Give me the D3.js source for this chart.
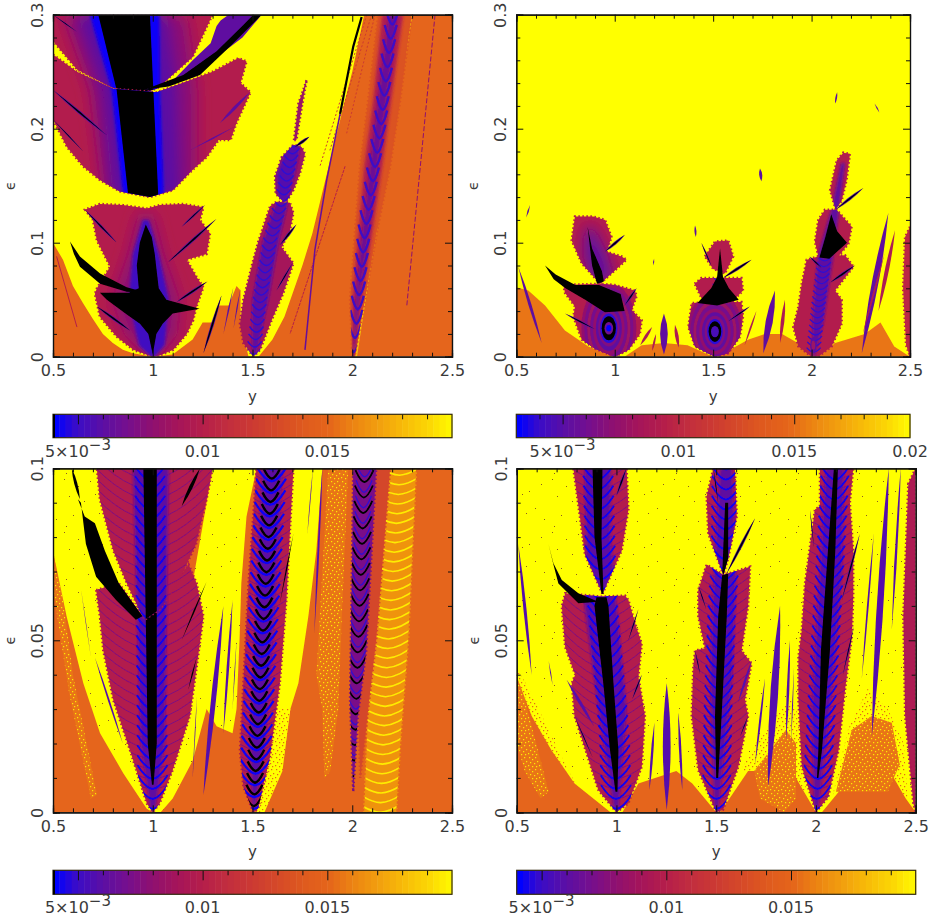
<!DOCTYPE html>
<html>
<head>
<meta charset="utf-8">
<script src="https://cdnjs.cloudflare.com/ajax/libs/d3/7.8.5/d3.min.js"></script>
<style>
body { margin: 0; background: #fff; }
text { font-family: "DejaVu Sans", sans-serif; fill: #3a3a3a; }
</style>
</head>
<body>
<div id="chart"></div>
<script>
// colour table
var cmapT = [0, 0.0039, 0.0042, 0.005, 0.006, 0.007, 0.008, 0.009, 0.01, 0.011, 0.012, 0.013, 0.014, 0.015, 0.016, 0.017, 0.018, 0.019, 0.02];
var cmapC = ["#000000", "#000000", "#0000ff", "#3a0cc8", "#5a0fa5", "#750f8e", "#8f1070", "#a5155a", "#b51e4a", "#c22e3e", "#cc3a32", "#d64a28", "#df5a1e", "#e5651a", "#ec8512", "#f2a00e", "#f8bc08", "#fcd804", "#ffff00"];

var xMajor = [0.5, 1, 1.5, 2, 2.5];
var xMinor = [0.6, 0.7, 0.8, 0.9, 1.1, 1.2, 1.3, 1.4, 1.6, 1.7, 1.8, 1.9, 2.1, 2.2, 2.3, 2.4];
var eMajorTop = [0, 0.1, 0.2, 0.3];
var eMinorTop = [0.02, 0.04, 0.06, 0.08, 0.12, 0.14, 0.16, 0.18, 0.22, 0.24, 0.26, 0.28];
var eMajorLow = [0, 0.05, 0.1];
var eMinorLow = [0.01, 0.02, 0.03, 0.04, 0.06, 0.07, 0.08, 0.09];
var barMajor = [0.005, 0.01, 0.015];
var barMinor = [0.004, 0.006, 0.007, 0.008, 0.009, 0.011, 0.012, 0.013, 0.014, 0.016, 0.017, 0.018, 0.019];

// ---- top left panel, points are [y, epsilon]
var aYellow = [[.5,.3],[2.06,.3],[2,.25],[1.9,.18],[1.8,.108],[1.75,.08],[1.7,.055],[1.66,.035],[1.6,.015],[1.53,0],[1.48,0],[1.44,.03],[1.44,.058],[1.42,.062],[1.38,.045],[1.33,.045],[1.3,.03],[1.25,.03],[1.2,.015],[1.1,.002],[1,0],[.9,.003],[.85,.006],[.8,.012],[.75,.02],[.7,.033],[.65,.047],[.6,.062],[.55,.085],[.5,.1]];
var aLobeUp = [[.5,.3],[1.3,.3],[1.2,.263],[1.02,.235],[.95,.232],[.8,.236],[.62,.252],[.5,.277]];
var aLobeLow = [[.5,.265],[.62,.25],[.8,.235],[1.02,.232],[1.15,.24],[1.3,.25],[1.43,.262],[1.47,.259],[1.44,.24],[1.49,.232],[1.42,.205],[1.39,.19],[1.33,.19],[1.27,.175],[1.2,.164],[1.1,.146],[.986,.14],[.835,.145],[.735,.155],[.65,.167],[.57,.184],[.5,.208]];
var aTopMag = [[.3,.55,1.17],[.234,.685,1.22],[.14,.75,1.22]];
var aTopPur = [[.3,.62,1.07],[.234,.75,1.12],[.14,.8,1.137]];
var aTopBlue = [[.3,.685,1.033],[.234,.794,1.036],[.14,.853,1.056]];
var aTopBlack = [[.3,.727,.986],[.234,.819,1.003],[.14,.878,1.028]];
var aFeatherUp = [[.953,.234],[1.1,.242],[1.2,.26],[1.29,.275],[1.32,.29],[1.34,.295],[1.38,.3],[1.546,.3],[1.45,.28],[1.3,.26],[1.2,.245],[1.08,.238]];
var aFeatherCore = [[.953,.234],[1.153,.247],[1.32,.268],[1.454,.291],[1.504,.3],[1.546,.3],[1.404,.275],[1.237,.247],[1.08,.237]];
var aLobeMid = [[.998,0],[.903,.006],[.819,.0175],[.735,.035],[.71,.055],[.72,.06],[.786,.079],[.72,.102],[.7,.12],[.66,.129],[.735,.134],[.85,.133],[.97,.13],[1.036,.133],[1.153,.134],[1.254,.131],[1.237,.12],[1.287,.108],[1.27,.09],[1.17,.085],[1.22,.07],[1.254,.061],[1.22,.044],[1.203,.032],[1.17,.02],[1.103,.006],[1.035,.001]];
var aMidMag = [[.125,.93,1],[.09,.88,1.05],[.05,.8,1.13],[.02,.86,1.12],[0,.97,1.03]];
var aMidBlue = [[.12,.95,.98],[.09,.9,1.03],[.05,.88,1.08],[.01,.93,1.06],[0,.99,1.01]];
var aMidBlack = [[.965,.116],[.995,.105],[1.01,.09],[1.02,.075],[1.03,.06],[1.068,.05],[1.235,.042],[1.1,.038],[1.05,.029],[1.018,.02],[1,.002],[.978,.02],[.936,.029],[.87,.037],[.77,.05],[.735,.056],[.88,.056],[.93,.06],[.92,.08],[.935,.1]];
var aFeatherLeft = [[.585,.101],[.635,.088],[.736,.073],[.869,.061],[.97,.056],[.869,.057],[.736,.064],[.635,.079],[.605,.09]];
var aLobe15 = [[1.504,0],[1.454,.012],[1.437,.029],[1.454,.05],[1.504,.085],[1.529,.101],[1.554,.114],[1.588,.132],[1.621,.136],[1.688,.135],[1.705,.126],[1.688,.111],[1.646,.096],[1.68,.088],[1.705,.082],[1.655,.056],[1.596,.032],[1.538,.006]];
var a15Spine = [[0,1.505],[.05,1.54],[.1,1.59],[.136,1.65]];
var a15Band = [[0,1.5,1.515],[.05,1.5,1.58],[.1,1.55,1.63],[.136,1.62,1.68]];
var aLobe15Up = [[1.655,.136],[1.616,.143],[1.613,.158],[1.646,.175],[1.705,.186],[1.746,.184],[1.763,.178],[1.738,.161],[1.705,.146],[1.67,.136]];
var a15UpBand = [[.136,1.63,1.67],[.16,1.62,1.71],[.186,1.68,1.74]];
var a15UpSpine = [[.136,1.65],[.186,1.71]];
var aLobe15Tip = [[1.708,.19],[1.73,.222],[1.772,.243],[1.75,.222],[1.72,.19]];
var aLobe2 = [[2,0],[1.989,.05],[2.013,.108],[2.039,.167],[2.08,.225],[2.13,.3],[2.298,.3],[2.24,.225],[2.19,.167],[2.122,.108],[2.064,.05],[2.012,0]];
var a2Soft = [[0,2,2.01],[.05,2,2.05],[.108,2.03,2.1],[.167,2.06,2.15],[.225,2.105,2.195],[.3,2.15,2.255]];
var a2Band = [[0,2.003,2.008],[.05,2.018,2.035],[.108,2.05,2.08],[.167,2.09,2.125],[.225,2.13,2.17],[.3,2.185,2.225]];
var a2Spine = [[0,2.005],[.108,2.064],[.196,2.14],[.3,2.206]];
var aStreak = [[2.047,.298],[2.005,.272],[1.939,.213],[1.872,.155],[1.813,.094],[1.763,.006]];
var aThin1 = [[2.415,.3],[2.273,.044]];
var aThin2 = [[2.097,.3],[1.888,.181]];
var aThin3 = [[2.114,.3],[1.972,.196]];
var aThin4 = [[2.073,.3],[1.838,.167]];
var aThin5 = [[1.964,.167],[1.688,.02]];
var aThin6 = [[.518,.088],[.62,.026]];
var aRim = [[2.02,0],[2.09,.08],[2.18,.17],[2.298,.3]];
var aDarkFeathers = [[.5,.234,.77,.194,.012],[.5,.208,.652,.18,.006],[.5,.3,.62,.285,.005],[1.32,.121,1.078,.083,.012],[1.262,.133,1.145,.114,.008],[1.274,.066,1.12,.048,.012],[.72,.044,.886,.023,.012],[.66,.129,.82,.1,.01],[1.72,.116,1.638,.098,.012],[1.7,.082,1.62,.058,.007],[1.785,.193,1.713,.184,.012],[1.254,.003,1.345,.054,.012]];
var aPurpleFeathers = [[1.487,.232,1.337,.205,.012],[1.412,.202,1.187,.181,.006],[1.404,.061,1.354,.02,.006],[1.44,.06,1.405,.025,.005]];

// ---- top right panel
var bOrangeL = [[.5,0],[.5,.061],[.561,.058],[.646,.045],[.747,.023],[.866,.009],[.985,.001],[1,0]];
var bOrangeM = [[1.05,0],[1.137,.01],[1.25,.012],[1.37,.01],[1.5,0]];
var bOrangeR = [[1.52,0],[1.68,.015],[1.763,.02],[1.85,.02],[1.95,.01],[2,0]];
var bOrangeE = [[2.03,0],[2.12,.012],[2.27,.02],[2.35,.03],[2.42,.009],[2.5,0]];
var bLobe1 = [[1,0],[.9,.007],[.832,.015],[.79,.035],[.798,.044],[.747,.056],[.739,.063],[.917,.064],[1,.063],[1.103,.058],[1.111,.053],[1.086,.041],[1.137,.032],[1.128,.02],[1.07,.006]];
var bLobe1Up = [[.925,.064],[.832,.082],[.781,.102],[.798,.123],[.891,.123],[.951,.12],[.984,.105],[.959,.092],[1.035,.088],[1.06,.085],[.984,.073]];
var b1Streak = [[.862,.114],[.885,.095],[.935,.075],[.945,.066],[.91,.064],[.885,.08]];
var b1Band = [[.114,.85,.89],[.09,.84,.96],[.066,.88,1]];
var b1Black = [[.646,.08],[.7,.072],[.8,.063],[.92,.063],[1.03,.055],[1.05,.04],[.95,.039],[.85,.05],[.75,.06],[.69,.068]];
var b1Rings = [[.14,.04,.0082],[.125,.036,.0072],[.11,.032,.0086],[.095,.028,.007],[.08,.024,.0082],[.066,.02,.0062],[.054,.016,.0075],[.044,.013,.0048],[.036,.0105,0],[.022,.0055,.0068],[.013,.0028,.0042]];
var b1Feathers = [[1.052,.107,.95,.092,.012],[.747,.038,.9,.024,.009],[1.111,.06,1.05,.045,.01]];
var bLobe15 = [[1.509,0],[1.408,.009],[1.374,.026],[1.391,.047],[1.509,.048],[1.644,.048],[1.652,.035],[1.636,.0175],[1.577,.003]];
var bLobe15Mid = [[1.406,.064],[1.44,.069],[1.526,.069],[1.644,.069],[1.652,.058],[1.594,.048],[1.45,.048]];
var bLobe15Up = [[1.458,.088],[1.509,.101],[1.577,.102],[1.602,.088],[1.56,.073],[1.5,.077]];
var b15Black = [[1.42,.047],[1.49,.06],[1.52,.07],[1.535,.095],[1.55,.07],[1.58,.06],[1.63,.05],[1.52,.045]];
var b15Rings = [[.14,.036,.0082],[.125,.032,.0072],[.11,.028,.0086],[.095,.024,.007],[.08,.02,.0082],[.066,.017,.0062],[.052,.014,.0075],[.04,.011,.0048],[.032,.009,0],[.02,.005,.0055]];
var b15MidSpine = [[.045,1.515],[.09,1.54]];
var b15Feathers = [[1.695,.085,1.55,.069,.012],[1.686,.044,1.577,.031,.009],[1.44,.1,1.49,.08,.006]];
var bLobe2 = [[2,0],[1.933,.009],[1.907,.026],[1.933,.044],[1.95,.064],[1.975,.085],[2.034,.088],[2.17,.089],[2.213,.079],[2.119,.058],[2.153,.05],[2.153,.029],[2.102,.009],[2.034,0]];
var bLobe2Mid = [[2.034,.088],[2.017,.101],[2.034,.12],[2.068,.129],[2.127,.129],[2.204,.114],[2.187,.099],[2.136,.088]];
var bLobe2Up = [[2.122,.129],[2.094,.146],[2.128,.172],[2.161,.179],[2.195,.178],[2.178,.155],[2.153,.137]];
var b2Band = [[0,2.005,2.015],[.03,2.005,2.06],[.088,2.03,2.11],[.129,2.1,2.14],[.17,2.15,2.17]];
var b2Black = [[2.1,.125],[2.13,.11],[2.18,.1],[2.09,.086],[2.04,.087],[2.07,.105]];
var b2Spine = [[0,2.008],[.05,2.04],[.088,2.07]];
var b2Rings = [[.016,.007,.006],[.01,.004,.0085]];
var b2Feathers = [[2.263,.148,2.122,.129,.012],[2.22,.08,2.095,.065,.012],[1.99,.088,2.05,.078,.008]];
var bSpikesPurple = [[1.25,.002,1.25,.038,.03],[1.814,.058,1.755,.003,.028],[2.39,.126,2.255,.003,.026],[.51,.079,.629,.012,.012]];
var bSpikesRed = [[1.19,.026,1.13,.01,.012],[1.306,.028,1.325,.008,.014],[1.72,.04,1.66,.01,.007],[1.865,.05,1.84,.012,.014],[2.424,.111,2.34,.04,.016],[2.37,.09,2.26,.02,.008],[1.21,.02,1.19,.005,.008]];
var bSpecks = [[1.738,.165,1.745,.154,.012],[1.408,.115,1.412,.105,.008],[2.13,.232,2.12,.222,.007],[2.32,.222,2.345,.214,.005],[.57,.133,.55,.122,.006],[1.2,.086,1.195,.08,.005]];
var bLobeEdge = [[2.5,.114],[2.475,.105],[2.465,.06],[2.48,.01],[2.5,0]];

// ---- bottom left panel
var cYellowL = [[.5,.1],[.72,.1],[.735,.091],[.803,.076],[.87,.0666],[.94,.058],[1,.0],[.97,.001],[.853,.0113],[.736,.023],[.652,.0375],[.568,.057],[.5,.076]];
var cYellowM = [[1.3,.1],[1.52,.1],[1.47,.086],[1.444,.0666],[1.435,.05],[1.42,.03],[1.4,.023],[1.32,.025],[1.27,.03],[1.2,.015],[1.1,.004],[1.04,0],[1,0]];
var cYellowR = [[1.705,.1],[1.85,.1],[1.82,.076],[1.78,.057],[1.73,.0375],[1.69,.03],[1.65,.018],[1.6,.006],[1.54,0],[1.52,0]];
var cSpeckLeft = [[.5,.076],[.53,.071],[.6,.04],[.72,.005],[.69,.004],[.58,.035],[.5,.065]];
var cSpeck15 = [[1.6,.03],[1.69,.03],[1.65,.012],[1.56,0],[1.53,0]];
var cSpeckMid = [[1.88,.1],[1.98,.1],[1.95,.06],[1.93,.03],[1.89,.012],[1.86,.01],[1.85,.03],[1.82,.04],[1.85,.07]];
var cWave = [[2.16,.1],[2.32,.1],[2.28,.05],[2.24,.02],[2.22,0],[2.06,0],[2.08,.03],[2.1,.06]];
var cWaveSpine = [[0,2.14],[.05,2.18],[.1,2.24]];
var cLobe1 = [[.716,.0646],[.735,.057],[.752,.047],[.802,.0327],[.886,.018],[.97,.0026],[1,0],[1.035,.0026],[1.1,.0123],[1.186,.028],[1.22,.042],[1.254,.057],[1.22,.0666],[1.18,.072],[1.1,.066],[1.035,.059],[.948,.057],[.83,.0666]];
var cLobe1Up = [[.72,.1],[1.3,.1],[1.27,.091],[1.217,.078],[1.117,.0656],[1.035,.059],[.96,.056],[.94,.058],[.87,.0666],[.803,.076],[.735,.091]];
var c1Spine = [[0,1],[.1,.985]];
var c1Black = [[.008,.996,1.004],[.02,.975,1.02],[.1,.953,1.02]];
var c1Band = [[0,.99,1.01],[.02,.94,1.06],[.1,.9,1.08]];
var cFeather = [[.625,.091],[.659,.086],[.71,.084],[.76,.076],[.83,.0666],[.948,.057],[.915,.056],[.816,.0617],[.716,.0685],[.665,.078],[.64,.09]];
var cBlackFeathers = [[.594,.1,.635,.091,.012],[1.237,.1,1.145,.089,.014],[1.22,.045,1.178,.0356,.005],[1.27,.067,1.145,.05,.006],[1.705,.081,1.637,.0607,.005]];
var cPurpleFeathers = [[.71,.045,.85,.02,.007],[1.354,.06,1.254,.005,.02],[1.4,.0617,1.354,.023,.01],[1.85,.1,1.81,.052,.008],[1.803,.1,1.775,.081,.003],[1.222,.034,1.2,.01,.003],[1.42,.05,1.4,.03,.003],[.64,.065,.69,.045,.002]];
var cLobe15 = [[1.504,0],[1.454,.0075],[1.437,.018],[1.454,.0375],[1.48,.0666],[1.52,.1],[1.705,.1],[1.687,.081],[1.67,.0617],[1.637,.0375],[1.587,.016],[1.528,.001]];
var c15Spine = [[0,1.505],[.05,1.55],[.1,1.6]];
var c15Band = [[0,1.5,1.51],[.02,1.49,1.56],[.05,1.51,1.6],[.1,1.55,1.65]];
var cLobe2 = [[2.005,.1],[1.989,.0327],[2.005,.006],[2.028,.028],[2.07,.047],[2.12,.1]];
var cLobe2Edge = [[2.12,.1],[2.19,.1],[2.12,.05],[2.04,.01],[2.03,.03]];
var c2Spine = [[.006,2.005],[.05,2.03],[.1,2.064]];

// ---- bottom right panel
var dOrangeL = [[.5,0],[.5,.0394],[.575,.028],[.675,.018],[.79,.0084],[.97,0]];
var dOrangeM = [[1.03,0],[1.11,.0084],[1.3,.012],[1.38,.0084],[1.5,0]];
var dOrangeR = [[1.52,0],[1.66,.012],[1.75,.012],[1.9,.01],[2,0]];
var dOrangeE = [[2.03,0],[2.2,.012],[2.33,.016],[2.45,.004],[2.5,0]];
var dSpeck1 = [[.5,.0394],[.54,.033],[.66,.006],[.62,.004],[.54,.012],[.5,.02]];
var dSpeck2 = [[1.69,.012],[1.77,.018],[1.85,.024],[1.9,.02],[1.9,.004],[1.84,0],[1.72,.004]];
var dSpeck3 = [[2.1,.006],[2.18,.024],[2.28,.028],[2.38,.026],[2.42,.014],[2.36,.006],[2.2,.006]];
var dMix1 = [[.5,.042],[.56,.036],[.66,.024],[.76,.012],[.84,.004],[.79,.0084],[.675,.018],[.575,.028],[.5,.0394]];
var dMix2 = [[1.62,.012],[1.7,.02],[1.8,.028],[1.88,.034],[1.93,.024],[1.95,.006],[1.75,.012]];
var dMix3 = [[2.08,.004],[2.16,.024],[2.26,.036],[2.36,.03],[2.44,.02],[2.46,.004],[2.2,.012]];
var dLobe1 = [[1,0],[.909,.0065],[.79,.028],[.776,.0375],[.793,.04],[.743,.048],[.726,.06],[.743,.0637],[.926,.0627],[1.043,.063],[1.06,.0617],[1.093,.055],[1.127,.049],[1.11,.0394],[1.143,.028],[1.127,.0133],[1.06,.0026]];
var dLobe1Up = [[.93,.0635],[.842,.075],[.784,.1],[1.051,.1],[1.06,.088],[1.026,.076]];
var d1Black = [[.006,.995,1.005],[.018,.968,1.01],[.0375,.934,.985],[.06,.89,.96],[.0625,.9,.95]];
var d1BlackUp = [[.0635,.925,.935],[.08,.89,.925],[.1,.88,.93]];
var d1Band = [[0,.99,1.01],[.03,.91,1.05],[.06,.84,1],[.08,.85,.97],[.1,.84,.97]];
var d1Spine = [[0,1],[.018,.99],[.0375,.96],[.06,.925],[.1,.905]];
var dFeather = [[.659,.078],[.684,.0724],[.726,.0675],[.809,.0637],[.909,.0612],[.809,.0608],[.709,.0665],[.684,.072]];
var dLobe15 = [[1.5,0],[1.41,.0123],[1.377,.028],[1.385,.042],[1.394,.047],[1.444,.0477],[1.41,.057],[1.41,.0646],[1.452,.072],[1.536,.069],[1.67,.0714],[1.66,.06],[1.627,.047],[1.677,.0433],[1.644,.0327],[1.66,.028],[1.611,.0133],[1.534,.0007]];
var dLobe15Up = [[1.536,.069],[1.46,.081],[1.452,.0918],[1.486,.1],[1.594,.1],[1.603,.086],[1.561,.074]];
var d15Spine = [[0,1.5],[.028,1.51],[.057,1.53],[.069,1.545],[.1,1.55]];
var d15Black = [[.01,1.5,1.51],[.028,1.494,1.527],[.057,1.51,1.553],[.069,1.53,1.56],[.09,1.545,1.56]];
var d15Band = [[0,1.49,1.51],[.04,1.47,1.58],[.07,1.49,1.6],[.1,1.52,1.58]];
var dLobe2 = [[2,0],[1.929,.0133],[1.912,.0327],[1.912,.045],[1.929,.053],[1.945,.0666],[1.995,.088],[2.02,.089],[2.02,.1],[2.187,.1],[2.17,.09],[2.187,.076],[2.187,.0627],[2.18,.051],[2.146,.0356],[2.113,.018],[2.062,.0045]];
var d2Spine = [[0,2],[.018,2.02],[.047,2.048],[.076,2.078],[.1,2.1]];
var d2Black = [[.01,2.005,2.012],[.018,2.012,2.03],[.047,2.025,2.07],[.076,2.06,2.097],[.1,2.09,2.11]];
var d2Band = [[0,1.99,2.01],[.03,1.98,2.07],[.07,2.02,2.13],[.1,2.05,2.14]];
var dLobeEdge = [[2.5,.1],[2.463,.0956],[2.438,.057],[2.447,.028],[2.488,.0026],[2.5,0]];
var dBlackFeathers = [[1.06,.05,1.11,.059,.006],[1.127,.04,1.08,.033,.007],[.79,.028,.88,.016,.005],[1.05,.1,1,.092,.01],[1.695,.0855,1.553,.0695,.012],[1.486,.1,1.51,.09,.006],[1.41,.066,1.45,.059,.005],[1.394,.047,1.42,.04,.005],[1.66,.028,1.62,.022,.005],[2.22,.081,2.13,.0617,.009],[2.19,.054,2.135,.04,.006],[1.97,.088,1.99,.077,.004]];
var dPurpleFeathers = [[.75,.0385,.888,.025,.012],[1.677,.044,1.61,.032,.009],[1.252,.0375,1.252,.0007,.03],[1.19,.026,1.165,.0065,.01],[1.31,.029,1.33,.0065,.01],[1.745,.039,1.695,.014,.008],[1.82,.06,1.76,.0075,.03],[1.87,.05,1.85,.021,.01],[2.29,.081,2.23,.039,.007],[2.365,.1,2.28,.022,.026],[2.425,.1,2.38,.053,.01],[.508,.078,.575,.04,.012],[.66,.044,.68,.037,.004],[1.89,.042,1.875,.02,.004]];
// recurring colour levels
var lvl = {lobe: 0.0098, mag: 0.0078, pur: 0.006, blue: 0.0043, arc: 0.0074, edge: 0.0112, orange: 0.015, yellow: 0.02};

var width = 931, height = 923;
var svg = d3.select("#chart").append("svg").attr("width", width).attr("height", height);
var defs = svg.append("defs");

var color = d3.scaleLinear().domain(cmapT).range(cmapC).clamp(true);

function addBlur(id, s) {
  defs.append("filter").attr("id", id)
    .attr("x", "-40%").attr("y", "-40%").attr("width", "180%").attr("height", "180%")
    .append("feGaussianBlur").attr("stdDeviation", s);
}
addBlur("soft", 7);
addBlur("tight", 1.6);
addBlur("jpeg", 0.55);

function addSpeck(id, bg, dot, pts, w, h, s) {
  var p = defs.append("pattern").attr("id", id).attr("patternUnits", "userSpaceOnUse")
    .attr("width", w).attr("height", h);
  p.append("rect").attr("width", w).attr("height", h).attr("fill", bg);
  p.selectAll("rect.d").data(pts).enter().append("rect").attr("class", "d")
    .attr("x", function(d) { return d[0]; }).attr("y", function(d) { return d[1]; })
    .attr("width", s).attr("height", s).attr("fill", dot);
}
var sparse = [[3,2],[17,9],[29,4],[41,14],[53,7],[8,19],[23,24],[34,17],[47,31],[12,38],[27,44],[38,36],[56,42],[5,49]];
var dense = [[1,1],[4,3],[7,1],[2,6],[6,7],[9,5],[0,9],[4,10],[8,10]];
addSpeck("speckDark", color(lvl.yellow), "#8a5a20", sparse, 61, 53, 1);
addSpeck("speckOrange", color(0.0155), color(0.0195), dense, 11, 12, 1.2);
addSpeck("speckMix", color(lvl.yellow), color(0.015), dense, 11, 12, 1.2);

var clipCount = 0;

function makePanel(left, right, top, bottom, eMax) {
  var g = svg.append("g");
  var id = "plot" + (clipCount++);
  defs.append("clipPath").attr("id", id).append("rect")
    .attr("x", left).attr("y", top).attr("width", right - left).attr("height", bottom - top);
  var x = d3.scaleLinear().domain([0.5, 2.5]).range([left, right]);
  var e = d3.scaleLinear().domain([0, eMax]).range([bottom, top]);
  var plot = g.append("g").attr("clip-path", "url(#" + id + ")").append("g").attr("filter", "url(#jpeg)");
  var line = d3.line().x(function(d) { return x(d[0]); }).y(function(d) { return e(d[1]); });

  function rowsToPoly(rows) {
    var a = rows.map(function(r) { return [r[1], r[0]]; });
    var b = rows.map(function(r) { return [r[2], r[0]]; }).reverse();
    return a.concat(b);
  }

  var p = {
    x: x, e: e, left: left, right: right, top: top, bottom: bottom, g: g,
    ground: function(fill) {
      plot.append("rect").attr("x", left).attr("y", top).attr("width", right - left).attr("height", bottom - top).attr("fill", fill);
    },
    fill: function(pts, fill, target) {
      return (target || plot).append("path").attr("d", line(pts) + "Z").attr("fill", fill);
    },
    rows: function(rows, fill, target) {
      return p.fill(rowsToPoly(rows), fill, target);
    },
    stroke: function(pts, value, w, dash) {
      return plot.append("path").attr("d", line(pts)).attr("fill", "none")
        .attr("stroke", color(value)).attr("stroke-width", w).attr("stroke-dasharray", dash || null);
    },
    // feathers are thin tapered leaves
    feathers: function(list, value, scale) {
      var k = scale || 1;
      plot.selectAll(null).data(list).enter().append("path")
        .attr("fill", color(value))
        .attr("d", function(d) {
          var x0 = x(d[0]), y0 = e(d[1]), x1 = x(d[2]), y1 = e(d[3]);
          var hw = d[4] * (right - left) / 2 * 0.65 * k;
          var len = Math.hypot(x1 - x0, y1 - y0);
          var nx = -(y1 - y0) / len * hw * 2, ny = (x1 - x0) / len * hw * 2;
          var mx = (x0 + x1) / 2, my = (y0 + y1) / 2;
          var q = d3.path();
          q.moveTo(x0, y0);
          q.quadraticCurveTo(mx + nx, my + ny, x1, y1);
          q.quadraticCurveTo(mx - nx, my - ny, x0, y0);
          return q.toString();
        });
    },
    // purple leaf with a black core
    dark: function(list) {
      p.feathers(list, 0.0058, 1);
      p.feathers(list, 0, 0.55);
    },
    // outline with a fringe of teeth, returns a clipped group for what goes inside
    lobe: function(outline, value) {
      var cid = "lobe" + (clipCount++);
      defs.append("clipPath").attr("id", cid).append("path").attr("d", line(outline) + "Z");
      plot.append("path").attr("d", line(outline) + "Z").attr("fill", color(value))
        .attr("stroke", color(value)).attr("stroke-width", 2.4).attr("stroke-dasharray", "1.5 2.5");
      return plot.append("g").attr("clip-path", "url(#" + cid + ")");
    },
    band: function(target, rows, value, filt) {
      p.rows(rows, color(value), target).attr("filter", "url(#" + filt + ")");
    },
    rings: function(cy, ce, list, target) {
      (target || plot).selectAll(null).data(list).enter().append("ellipse")
        .attr("cx", x(cy)).attr("cy", e(ce))
        .attr("rx", function(d) { return x(d[0]) - x(0); })
        .attr("ry", function(d) { return e(0) - e(d[1]); })
        .attr("fill", function(d) { return color(d[2]); });
    },
    // repeated V marks following a spine of [eps, y]
    chevrons: function(target, spine, from, to, step, half, rise, value, w) {
      var sp = d3.scaleLinear().domain(spine.map(function(s) { return s[0]; })).range(spine.map(function(s) { return s[1]; }));
      var q = d3.path();
      d3.range(from, to, step).forEach(function(v) {
        var cx = x(sp(v)), cy = e(v), up = e(v) - e(v + rise);
        q.moveTo(cx - half, cy - up);
        q.quadraticCurveTo(cx - half * 0.45, cy - up * 0.05, cx, cy);
        q.quadraticCurveTo(cx + half * 0.45, cy - up * 0.05, cx + half, cy - up);
      });
      target.append("path").attr("d", q.toString()).attr("fill", "none")
        .attr("stroke", color(value)).attr("stroke-width", w);
    }
  };
  return p;
}

function drawAxes(p, eMajor, eMinor) {
  var g = p.g, size = 7, small = 4;
  function ax(a, tx, ty, vals, s) {
    g.append("g").attr("transform", "translate(" + tx + "," + ty + ")")
      .call(a.tickValues(vals).tickSize(-s).tickFormat(""));
  }
  ax(d3.axisTop(p.x), 0, p.top, xMinor, small);
  ax(d3.axisTop(p.x), 0, p.top, xMajor, size);
  ax(d3.axisBottom(p.x), 0, p.bottom, xMinor, small);
  ax(d3.axisRight(p.e), p.right, 0, eMinor, small);
  ax(d3.axisRight(p.e), p.right, 0, eMajor, size);
  ax(d3.axisLeft(p.e), p.left, 0, eMinor, small);

  var bx = g.append("g").attr("transform", "translate(0," + p.bottom + ")")
    .call(d3.axisBottom(p.x).tickValues(xMajor).tickSize(-size).tickPadding(8).tickFormat(String));
  bx.selectAll("text").attr("font-size", 16).style("font-family", "DejaVu Sans");

  var by = g.append("g").attr("transform", "translate(" + p.left + ",0)")
    .call(d3.axisLeft(p.e).tickValues(eMajor).tickSize(-size).tickFormat(String));
  by.selectAll("text").attr("transform", "rotate(-90)").attr("x", 0).attr("y", -10).attr("dy", 0)
    .attr("font-size", 16).style("font-family", "DejaVu Sans").style("text-anchor", "middle");

  g.selectAll(".domain").attr("stroke", "#111").attr("stroke-width", 1.2);
  g.selectAll(".tick line").attr("stroke", "#111");

  g.append("text").attr("x", (p.left + p.right) / 2).attr("y", p.bottom + 45).attr("text-anchor", "middle")
    .attr("font-size", 15).text("y");
  g.append("text").attr("transform", "translate(" + (p.left - 38) + "," + (p.top + p.bottom) / 2 + ") rotate(-90)")
    .attr("text-anchor", "middle").attr("font-size", 14).text("\u03f5");
}

function drawBar(left, right, top, bottom, vMin, labels, strip) {
  var g = svg.append("g");
  var b = d3.scaleLinear().domain([vMin, 0.02]).range([left, right]);
  // colours run along the bar, not along the value, so the bar with the wider range stretches them
  var t = d3.scaleLinear().domain([vMin, 0.02]).range([0.0042, 0.02]);
  var steps = d3.range(vMin, 0.02, 0.00025);
  g.selectAll("rect").data(steps).enter().append("rect")
    .attr("x", function(d) { return b(d); }).attr("y", top)
    .attr("width", function(d) { return b(d + 0.00025) - b(d) + 0.5; })
    .attr("height", bottom - top).attr("fill", function(d) { return color(t(d)); });
  var minor = barMinor.filter(function(v) { return v > vMin; });
  g.append("g").attr("transform", "translate(0," + top + ")")
    .call(d3.axisTop(b).tickValues(minor).tickSize(-5).tickFormat(""));
  g.append("g").attr("transform", "translate(0," + top + ")")
    .call(d3.axisTop(b).tickValues(barMajor).tickSize(-10).tickFormat(""));
  g.append("rect").attr("x", left).attr("y", top).attr("width", right - left).attr("height", bottom - top)
    .attr("fill", "none").attr("stroke", "#332a10").attr("stroke-width", 1.2);
  g.selectAll(".domain").attr("stroke", "none");
  g.selectAll(".tick line").attr("stroke", "#111");
  if (strip) g.append("rect").attr("x", left).attr("y", top).attr("width", 2).attr("height", bottom - top).attr("fill", "#000");
  var base = bottom + 19;
  var lab = g.append("text").attr("x", b(0.005)).attr("y", base).attr("text-anchor", "middle").attr("font-size", 16);
  lab.append("tspan").text("5\u00d710");
  lab.append("tspan").attr("dy", -7).attr("font-size", 15).text("\u22123");
  labels.forEach(function(v) {
    g.append("text").attr("x", b(v)).attr("y", base).attr("text-anchor", "middle")
      .attr("font-size", 16).text(String(v));
  });
}

// ---------------- top left
var A = makePanel(53, 452, 14.7, 356.7, 0.3);
A.ground(color(lvl.orange));
A.fill(aYellow, color(lvl.yellow));
A.stroke(aThin1, 0.008, 1, "5 2");
A.stroke(aThin2, 0.012, 1, "2 2");
A.stroke(aThin3, 0.012, 1, "2 2");
A.stroke(aThin4, 0.012, 1, "2 2");
A.stroke(aThin5, 0.01, 1, "3 1");
A.stroke(aThin6, 0.01, 1);
A.stroke(aRim, 0.0185, 1.5);
A.stroke(aStreak.slice(0, 3), 0, 2.2);
A.stroke(aStreak.slice(2), 0.0065, 1.5);
var a2 = A.lobe(aLobe2, 0.0135);
A.band(a2, a2Soft, 0.0095, "tight");
A.band(a2, a2Band, 0.0066, "tight");
A.chevrons(a2, a2Spine, 0.004, 0.3, 0.0125, 6, 0.012, 0.005, 2.4);
var aUp = A.lobe(aLobeUp, lvl.lobe);
A.band(aUp, aTopMag, lvl.mag, "soft");
A.band(aUp, aTopPur, lvl.pur, "soft");
A.band(aUp, aTopBlue, lvl.blue, "tight");
A.rows(aTopBlack, "#000", aUp);
var aLow = A.lobe(aLobeLow, lvl.lobe);
A.band(aLow, aTopMag, lvl.mag, "soft");
A.band(aLow, aTopPur, lvl.pur, "soft");
A.band(aLow, aTopBlue, lvl.blue, "tight");
A.rows(aTopBlack, "#000", aLow);
A.fill(aFeatherUp, color(0.0062));
A.fill(aFeatherCore, "#000");
var aMid = A.lobe(aLobeMid, lvl.lobe);
A.band(aMid, aMidMag, lvl.mag, "soft");
A.band(aMid, aMidBlue, 0.0052, "tight");
A.fill(aMidBlack, "#000");
A.fill(aFeatherLeft, "#000");
var a15 = A.lobe(aLobe15, 0.009);
A.band(a15, a15Band, 0.0062, "tight");
A.chevrons(a15, a15Spine, 0.002, 0.136, 0.0065, 7, 0.005, 0.0048, 1.4);
var a15u = A.lobe(aLobe15Up, 0.0085);
A.band(a15u, a15UpBand, 0.0058, "tight");
A.chevrons(a15u, a15UpSpine, 0.136, 0.186, 0.006, 7, 0.005, 0.0048, 1.4);
A.lobe(aLobe15Tip, 0.0085);
A.dark(aDarkFeathers);
A.feathers(aPurpleFeathers, 0.0062);

// ---------------- top right
var B = makePanel(516.3, 910, 14.7, 356.7, 0.3);
B.ground(color(lvl.yellow));
[bOrangeL, bOrangeM, bOrangeR, bOrangeE].forEach(function(pts) { B.fill(pts, color(0.0155)); });
B.lobe(bLobeEdge, 0.0105);
var b1 = B.lobe(bLobe1, lvl.lobe);
B.rings(0.97, 0.025, b1Rings, b1);
var b1u = B.lobe(bLobe1Up, lvl.lobe);
B.band(b1u, b1Band, 0.0062, "soft");
B.fill(b1Streak, "#000");
B.fill(b1Black, "#000");
B.dark(b1Feathers);
var b15 = B.lobe(bLobe15, lvl.lobe);
B.rings(1.509, 0.022, b15Rings, b15);
var b15m = B.lobe(bLobe15Mid, lvl.lobe);
var b15u = B.lobe(bLobe15Up, lvl.lobe);
B.fill(b15Black, "#000");
B.chevrons(b15m, b15MidSpine, 0.048, 0.09, 0.006, 5, 0.004, 0.0048, 1.2);
B.dark(b15Feathers);
var b2 = B.lobe(bLobe2, lvl.lobe);
var b2m = B.lobe(bLobe2Mid, lvl.lobe);
var b2u = B.lobe(bLobe2Up, lvl.lobe);
B.band(b2, b2Band, 0.0062, "tight");
B.band(b2m, b2Band, 0.0062, "tight");
B.band(b2u, b2Band, 0.0062, "tight");
B.chevrons(b2, b2Spine, 0.004, 0.088, 0.005, 7, 0.004, 0.0048, 1.2);
B.rings(2.009, 0.01, b2Rings, b2);
B.fill(b2Black, "#000");
B.dark(b2Feathers);
B.feathers(bSpikesPurple, 0.0062);
B.feathers(bSpikesRed, 0.0095);
B.feathers(bSpecks, 0.006);

// ---------------- bottom left
var C = makePanel(53, 452, 468.3, 812.3, 0.1);
C.ground(color(lvl.orange));
C.fill(cSpeckLeft, "url(#speckOrange)");
C.fill(cYellowL, "url(#speckDark)");
C.fill(cYellowM, "url(#speckDark)");
C.fill(cYellowR, color(lvl.yellow));
C.fill(cSpeck15, "url(#speckMix)");
C.fill(cSpeckMid, "url(#speckOrange)");
var cw = C.lobe(cWave, 0.0165);
C.chevrons(cw, cWaveSpine, 0, 0.1, 0.0028, 30, 0.0045, 0.0195, 1.6);
var c2e = C.lobe(cLobe2Edge, 0.0128);
var c2 = C.lobe(cLobe2, 0.0072);
C.chevrons(c2, c2Spine, 0.006, 0.1, 0.0045, 9, 0.0035, 0, 1.8);
C.chevrons(c2, c2Spine, 0.0075, 0.1, 0.0045, 8, 0.0035, 0.0048, 1.2);
var c1 = C.lobe(cLobe1, lvl.lobe);
var c1u = C.lobe(cLobe1Up, lvl.lobe);
[c1, c1u].forEach(function(t) {
  C.chevrons(t, c1Spine, 0.001, 0.1, 0.0029, 75, 0.016, lvl.arc, 1);
  C.band(t, c1Band, 0.0062, "tight");
  C.chevrons(t, c1Spine, 0.001, 0.1, 0.0029, 15, 0.004, lvl.blue, 1.8);
  C.rows(c1Black, "#000", t);
});
C.fill(cFeather, "#000");
var c15 = C.lobe(cLobe15, lvl.lobe);
C.chevrons(c15, c15Spine, 0.001, 0.1, 0.0034, 50, 0.012, lvl.arc, 1);
C.band(c15, c15Band, 0.0062, "tight");
C.chevrons(c15, c15Spine, 0.001, 0.1, 0.0034, 15, 0.0042, lvl.blue, 2.2);
C.chevrons(c15, c15Spine, 0.0018, 0.1, 0.0034, 8, 0.0028, 0, 2.4);
C.feathers(cBlackFeathers, 0.0035);
C.feathers(cPurpleFeathers, 0.0058);

// ---------------- bottom right
var D = makePanel(516.7, 915.7, 468.3, 812.3, 0.1);
D.ground("url(#speckDark)");
D.fill(dMix1, "url(#speckMix)");
D.fill(dMix2, "url(#speckMix)");
D.fill(dMix3, "url(#speckMix)");
[dOrangeL, dOrangeM, dOrangeR, dOrangeE].forEach(function(pts) { D.fill(pts, color(lvl.orange)); });
D.fill(dSpeck1, "url(#speckOrange)");
D.fill(dSpeck2, "url(#speckOrange)");
D.fill(dSpeck3, "url(#speckOrange)");
D.lobe(dLobeEdge, 0.0095);
var d1 = D.lobe(dLobe1, lvl.lobe);
var d1u = D.lobe(dLobe1Up, lvl.lobe);
[d1, d1u].forEach(function(t) {
  D.chevrons(t, d1Spine, 0.001, 0.1, 0.0029, 60, 0.014, lvl.arc, 1);
  D.band(t, d1Band, 0.0062, "tight");
  D.chevrons(t, d1Spine, 0.001, 0.1, 0.0029, 15, 0.004, lvl.blue, 1.8);
});
D.rows(d1Black, "#000");
D.rows(d1BlackUp, "#000");
D.fill(dFeather, "#000");
var d15 = D.lobe(dLobe15, lvl.lobe);
var d15u = D.lobe(dLobe15Up, lvl.lobe);
[d15, d15u].forEach(function(t) {
  D.chevrons(t, d15Spine, 0.001, 0.1, 0.0029, 50, 0.012, lvl.arc, 1);
  D.band(t, d15Band, 0.0062, "tight");
  D.chevrons(t, d15Spine, 0.001, 0.1, 0.0029, 14, 0.004, lvl.blue, 1.8);
  D.rows(d15Black, "#000", t);
});
var d2 = D.lobe(dLobe2, lvl.lobe);
D.chevrons(d2, d2Spine, 0.001, 0.1, 0.0029, 55, 0.013, lvl.arc, 1);
D.band(d2, d2Band, 0.0062, "tight");
D.chevrons(d2, d2Spine, 0.001, 0.1, 0.0029, 14, 0.004, lvl.blue, 1.8);
D.rows(d2Black, "#000", d2);
D.dark(dBlackFeathers);
D.feathers(dPurpleFeathers, 0.0058);

drawAxes(A, eMajorTop, eMinorTop);
drawAxes(B, eMajorTop, eMinorTop);
drawAxes(C, eMajorLow, eMinorLow);
drawAxes(D, eMajorLow, eMinorLow);

drawBar(53, 452, 414.3, 437.7, 0.004, [0.01, 0.015], true);
drawBar(516.3, 910, 414.3, 437.7, 0.003, [0.01, 0.015, 0.02], false);
drawBar(53, 452, 870.3, 894.3, 0.004, [0.01, 0.015], true);
drawBar(516.7, 915.7, 870.3, 894.3, 0.004, [0.01, 0.015], false);
</script>
</body>
</html>
